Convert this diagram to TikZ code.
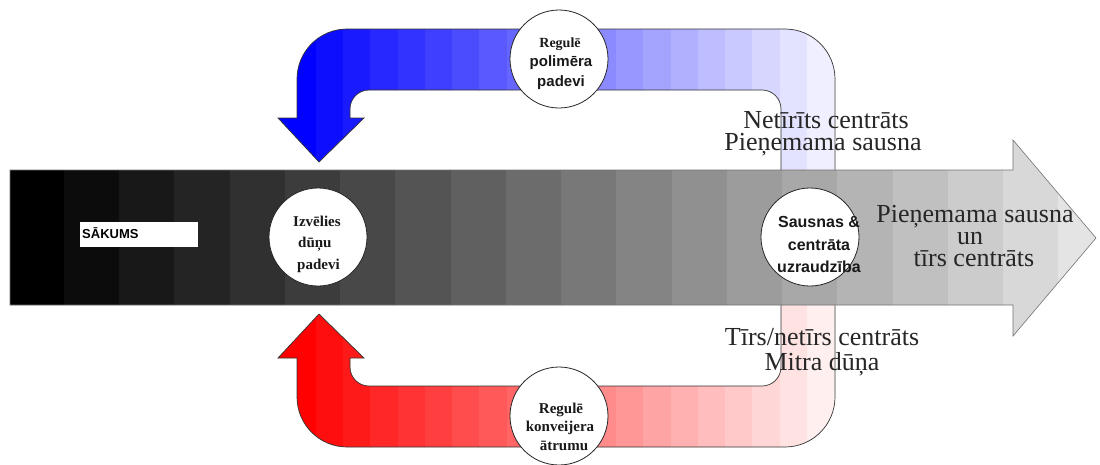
\documentclass[tikz,border=0pt]{standalone}
\usepackage{fontspec}
\setsansfont{Liberation Sans}
\newfontfamily\timesf{Liberation Serif}
\begin{document}
\begin{tikzpicture}[x=1pt,y=-1pt,
  outl/.style={draw=black!80,line width=0.7pt},
  disc/.style={circle,draw=black!85,line width=0.8pt,fill=white,minimum size=98pt,inner sep=0pt},
  bigtxt/.style={anchor=base,inner sep=0pt,text=black!85,font=\timesf\fontsize{26}{26}\selectfont},
  cserif/.style={anchor=base,inner sep=0pt,text=black!90,font=\timesf\bfseries\fontsize{15}{15}\selectfont},
  csans/.style={anchor=base,inner sep=0pt,text=black!90,font=\sffamily\bfseries\fontsize{16}{16}\selectfont}]
\useasboundingbox (0,0) rectangle (1100,464);
\fill[white] (0,0) rectangle (1100,464);

% ---- blue return arrow (top)
\path[save path=\bluep]
 (319,162) -- (364,118) -- (350,118) -- (350,109)
 .. controls (350,98.5) and (358.5,90) .. (369,90)
 -- (762,90) .. controls (772.5,90) and (781,98.5) .. (781,109)
 -- (781,200) -- (835,200) -- (835,79)
 .. controls (835,51.4) and (812.6,29) .. (785,29)
 -- (347,29) .. controls (319.4,29) and (297,51.4) .. (297,79)
 -- (297,118) -- (278,118) -- cycle;
\begin{scope}
 \clip[use path=\bluep];
 \foreach \i in {0,...,21}{
   \pgfmathsetmacro{\xa}{261+27.3*\i}
   \pgfmathsetmacro{\p}{100*max(0,min(1,1-(\xa+13.6-300)/555))}
   \fill[blue!\p!white] (\xa,20) rectangle ({\xa+27.8},210);
 }
\end{scope}
\path[outl,use path=\bluep];

% ---- red return arrow (bottom)
\path[save path=\redp]
 (319,314) -- (364,358) -- (350,358) -- (350,367)
 .. controls (350,377.5) and (358.5,386) .. (369,386)
 -- (762,386) .. controls (772.5,386) and (781,377.5) .. (781,367)
 -- (781,276) -- (835,276) -- (835,397)
 .. controls (835,424.6) and (812.6,447) .. (785,447)
 -- (347,447) .. controls (319.4,447) and (297,424.6) .. (297,397)
 -- (297,358) -- (278,358) -- cycle;
\begin{scope}
 \clip[use path=\redp];
 \foreach \i in {0,...,21}{
   \pgfmathsetmacro{\xa}{261+27.3*\i}
   \pgfmathsetmacro{\p}{100*max(0,min(1,1-(\xa+13.6-300)/555))}
   \fill[red!\p!white] (\xa,266) rectangle ({\xa+27.8},456);
 }
\end{scope}
\path[outl,use path=\redp];

% ---- main arrow
\path[save path=\mainp]
 (10,170) -- (1013,170) -- (1013,140) -- (1096,238) -- (1013,336)
 -- (1013,305) -- (10,305) -- cycle;
\begin{scope}
 \clip[use path=\mainp];
 \foreach \k in {0,...,19}{
   \pgfmathsetmacro{\xa}{8.5+55.25*\k}
   \pgfmathsetmacro{\g}{4.7*\k}
   \fill[white!\g!black] (\xa,130) rectangle ({\xa+55.8},345);
 }
\end{scope}
\path[draw=black!55,line width=0.6pt,use path=\mainp];

% ---- start label
\node[fill=white,anchor=north west,minimum width=118pt,minimum height=25pt,inner sep=0pt] (startbox) at (80,222) {};
\node[anchor=base west,inner sep=0pt,font=\sffamily\bfseries\fontsize{13}{13}\selectfont] (start) at (82,238) {SĀKUMS};

% ---- discs
\node[disc] (c1) at (559,59) {};
\node[disc] (c2) at (318,237) {};
\node[disc] (c3) at (810,237) {};
\node[disc] (c4) at (559,416) {};

\node[cserif,font=\timesf\bfseries\fontsize{14}{14}\selectfont] (c1a) at (560,47) {Regulē};
\node[csans,font=\sffamily\bfseries\fontsize{15}{15}\selectfont] (c1b) at (561,66) {polimēra};
\node[csans,font=\sffamily\bfseries\fontsize{15}{15}\selectfont] (c1c) at (561,86) {padevi};

\node[cserif,anchor=base west] (c2a) at (293,226) {Izvēlies};
\node[cserif,anchor=base west] (c2b) at (298,247) {dūņu};
\node[cserif,anchor=base west] (c2c) at (297,269) {padevi};

\node[csans] (c3a) at (819,227) {Sausnas \&};
\node[csans] (c3b) at (819,250) {centrāta};
\node[csans] (c3c) at (819,272) {uzraudzība};

\node[cserif] (c4a) at (561,413) {Regulē};
\node[cserif] (c4b) at (560,431) {konveijera};
\node[cserif] (c4c) at (564,450) {ātrumu};

% ---- big labels
\node[bigtxt] (t1) at (826,128) {Netīrīts centrāts};
\node[bigtxt] (t2) at (823,150) {Pieņemama sausna};
\node[bigtxt] (t3) at (975,222) {Pieņemama sausna};
\node[bigtxt] (t4) at (970,244) {un};
\node[bigtxt] (t5) at (974,266) {tīrs centrāts};
\node[bigtxt] (t6) at (822,345) {Tīrs/netīrs centrāts};
\node[bigtxt] (t7) at (822,370) {Mitra dūņa};
\end{tikzpicture}
\end{document}
